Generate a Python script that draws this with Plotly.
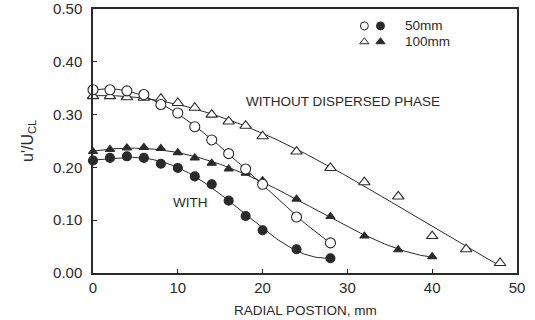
import numpy as np
import plotly.graph_objects as go

# Radial positions (mm)
x_open_circ = [0, 2, 4, 6, 8, 10, 12, 14, 16, 18, 20, 24, 28]
y_open_circ = [0.347, 0.347, 0.345, 0.338, 0.319, 0.303, 0.277, 0.252, 0.226, 0.197, 0.168, 0.106, 0.057]

x_open_tri = [0, 2, 4, 6, 8, 10, 12, 14, 16, 18, 20, 24, 28, 32, 36, 40, 44, 48]
y_open_tri = [0.335, 0.335, 0.333, 0.332, 0.330, 0.322, 0.313, 0.300, 0.287, 0.279, 0.259, 0.230, 0.199, 0.172, 0.145, 0.070, 0.045, 0.019]

x_fill_circ = [0, 2, 4, 6, 8, 10, 12, 14, 16, 18, 20, 24, 28]
y_fill_circ = [0.213, 0.218, 0.221, 0.218, 0.207, 0.199, 0.183, 0.168, 0.137, 0.108, 0.081, 0.045, 0.028]

x_fill_tri = [0, 2, 4, 6, 8, 10, 12, 14, 16, 18, 20, 24, 28, 32, 36, 40]
y_fill_tri = [0.230, 0.234, 0.237, 0.238, 0.236, 0.228, 0.218, 0.208, 0.197, 0.189, 0.175, 0.140, 0.107, 0.070, 0.044, 0.031]

x_ticks = [0, 10, 20, 30, 40, 50]
y_ticks = [0.0, 0.1, 0.2, 0.3, 0.4, 0.5]

# legend key anchor (data coords)
legend_key_x = [32.0, 33.9]
legend_rows_y = [0.468, 0.438]
legend_labels = ["50mm", "100mm"]

FONT = "Liberation Sans"
INK = "#2a2a2a"

fig = go.Figure()


def smooth_fit(xs, ys, deg):
    """Least-squares polynomial through the measured points (the drawn fit curve)."""
    xs = np.asarray(xs, float)
    ys = np.asarray(ys, float)
    c = np.polyfit(xs, ys, deg)
    xf = np.linspace(xs.min(), xs.max(), 200)
    return xf, np.polyval(c, xf)


def add(xs, ys, symbol, size, filled, deg):
    xf, yf = smooth_fit(xs, ys, deg)
    fig.add_trace(go.Scatter(x=xf, y=yf, mode="lines",
                             line=dict(color=INK, width=1),
                             cliponaxis=False, showlegend=False, hoverinfo="skip"))
    fig.add_trace(go.Scatter(
        x=xs, y=ys, mode="markers",
        marker=dict(symbol=symbol, size=size, color=INK if filled else "white",
                    line=dict(color=INK, width=1.1)),
        cliponaxis=False, showlegend=False,
    ))


add(x_open_tri, y_open_tri, "triangle-up", 10, False, 4)
add(x_fill_tri, y_fill_tri, "triangle-up", 8, True, 4)
add(x_open_circ, y_open_circ, "circle", 10, False, 4)
add(x_fill_circ, y_fill_circ, "circle", 9, True, 5)

# legend key markers
fig.add_trace(go.Scatter(x=legend_key_x, y=[legend_rows_y[0]] * 2, mode="markers",
                         marker=dict(symbol="circle", size=8, color=["white", INK], line=dict(color=INK, width=1)),
                         showlegend=False, hoverinfo="skip"))
fig.add_trace(go.Scatter(x=legend_key_x, y=[legend_rows_y[1]] * 2, mode="markers",
                         marker=dict(symbol="triangle-up", size=8, color=["white", INK], line=dict(color=INK, width=1)),
                         showlegend=False, hoverinfo="skip"))

axis_common = dict(
    showline=True, linecolor=INK, linewidth=1.5, mirror=True,
    ticks="inside", ticklen=4, tickcolor=INK, tickwidth=1,
    showgrid=False, zeroline=False, automargin=False,
    tickfont=dict(family=FONT, size=15, color=INK),
)

fig.update_xaxes(range=[0, 50], tickvals=x_ticks, ticktext=[str(v) for v in x_ticks],
                 **axis_common)
fig.update_yaxes(range=[0, 0.5], tickvals=y_ticks, ticktext=[f"{v:.2f}" for v in y_ticks],
                 ticklabelstandoff=6, **axis_common)

ann_font = dict(family=FONT, size=13.5, color=INK)
fig.add_annotation(xref="paper", yref="paper", x=0.5, y=0, yanchor="top", yshift=-28,
                   text="RADIAL POSTION, mm", showarrow=False, font=ann_font)
fig.add_annotation(xref="paper", yref="paper", x=0, y=0.5, xanchor="center", xshift=-65,
                   textangle=-90, text="u'/U<sub>CL</sub>", showarrow=False,
                   font=dict(family=FONT, size=16, color=INK))
fig.add_annotation(x=29.5, y=0.324, text="WITHOUT DISPERSED PHASE", showarrow=False, font=ann_font)
fig.add_annotation(x=11.5, y=0.134, text="WITH", showarrow=False, font=ann_font)
for ly, lab in zip(legend_rows_y, legend_labels):
    fig.add_annotation(x=36.6, y=ly, text=lab, showarrow=False, xanchor="left", font=ann_font)

fig.update_layout(
    width=535, height=320,
    margin=dict(l=93, r=18, t=9, b=47),
    paper_bgcolor="white", plot_bgcolor="white",
)

fig.write_html("out.html")
